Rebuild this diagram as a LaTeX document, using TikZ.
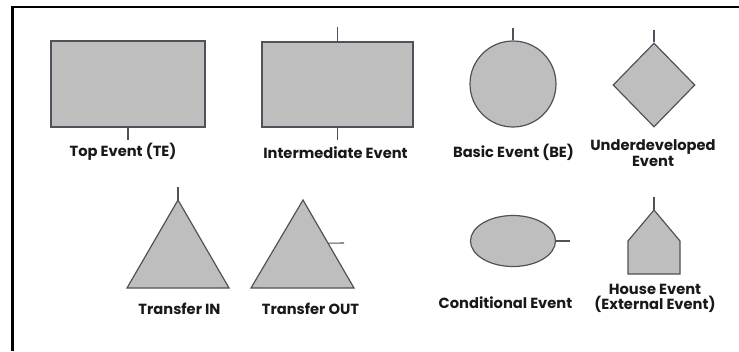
\documentclass[tikz,border=0pt]{standalone}
\usepackage{fontspec}
\setmainfont{Poppins}
\usetikzlibrary{shapes.geometric,calc}
\definecolor{evfill}{RGB}{190,190,190}
\definecolor{evline}{RGB}{78,82,90}
\tikzset{ ev/.style = { draw = evline % event shape
, fill = evfill
, line width = 0.9pt
, inner sep = 0pt
}
, st/.style = { draw = evline % stem
, line width = 0.8pt
}
, lb/.style = { font = \bfseries\fontsize{11}{11.5}\selectfont % label
, text = black!90
, align = center
, inner sep = 0pt
}
}

\begin{document}
\begin{tikzpicture}[x=0.75pt, y=-0.75pt]
                    \useasboundingbox (0,0) rectangle (739,351);
                    \draw[line width=2.2pt] (739,7)--(12.5,7)--(12.5,351);

                    % top row
                    \node[ev, rectangle, minimum width=115.5pt, minimum height=64.5pt] (te) at (128,84) {};
                    \node[ev, rectangle, minimum width=113.25pt, minimum height=63.75pt] (ie) at (337.5,84.5) {};
                    \node[ev, circle, minimum size=64.5pt] (be) at (513,84) {};
                    \node[ev, diamond, minimum width=61.5pt, minimum height=63pt] (ue) at (654,85) {};
                    \coordinate (te-s) at (128,140);
                    \coordinate (ie-n) at (337.5,27);
                    \coordinate (ie-s) at (337.5,140);
                    \coordinate (be-n) at (513,28);
                    \coordinate (ue-n) at (654,30);
                    \draw[st] (te.south)--(te-s);
                    \draw[st] (ie.north)--(ie-n);
                    \draw[st] (ie.south)--(ie-s);
                    \draw[st] (be.north)--(be-n);
                    \draw[st] (ue.north)--(ue-n);
                    \node[lb] (te-l) at (123,152) {Top Event (TE)};
                    \node[lb] (ie-l) at (335.5,153) {Intermediate Event};
                    \node[lb] (be-l) at (513.5,152) {Basic Event (BE)};
                    \node[lb] (ue-l) at (653,153) {Underdeveloped\\Event};

                    % bottom row
                    \coordinate (tin-a) at (178,200);
                    \coordinate (tin-n) at (178,187);
                    \coordinate (tout-a) at (303,200);
                    \coordinate (tout-r) at (354,288);
                    \coordinate (tout-e) at ($(tout-a)!0.49!(tout-r)$);
                    \coordinate (tout-x) at (344,243);
                    \draw[ev] (tin-a)--(229,288)--(127,288)--cycle;
                    \draw[ev] (tout-a)--(tout-r)--(251,288)--cycle;
                    \draw[st] (tin-a)--(tin-n);
                    \draw[st] (tout-e)--(tout-x);
                    \node[ev, ellipse, minimum width=63.75pt, minimum height=38.25pt] (ce) at (513,241) {};
                    \coordinate (ce-e) at (570,241);
                    \draw[st] (ce.east)--(ce-e);
                    \coordinate (he-a) at (654,210);
                    \coordinate (he-n) at (654,197);
                    \draw[ev] (he-a)--(680,241)--(680,274)--(628,274)--(628,241)--cycle;
                    \draw[st] (he-a)--(he-n);
                    \node[lb] (tin-l) at (179.5,309) {Transfer IN};
                    \node[lb] (tout-l) at (310.5,309) {Transfer OUT};
                    \node[lb] (ce-l) at (505.5,303) {Conditional Event};
                    \node[lb] (he-l) at (655,298.5) {House Event\\(External Event)};
                \end{tikzpicture}
\end{document}
